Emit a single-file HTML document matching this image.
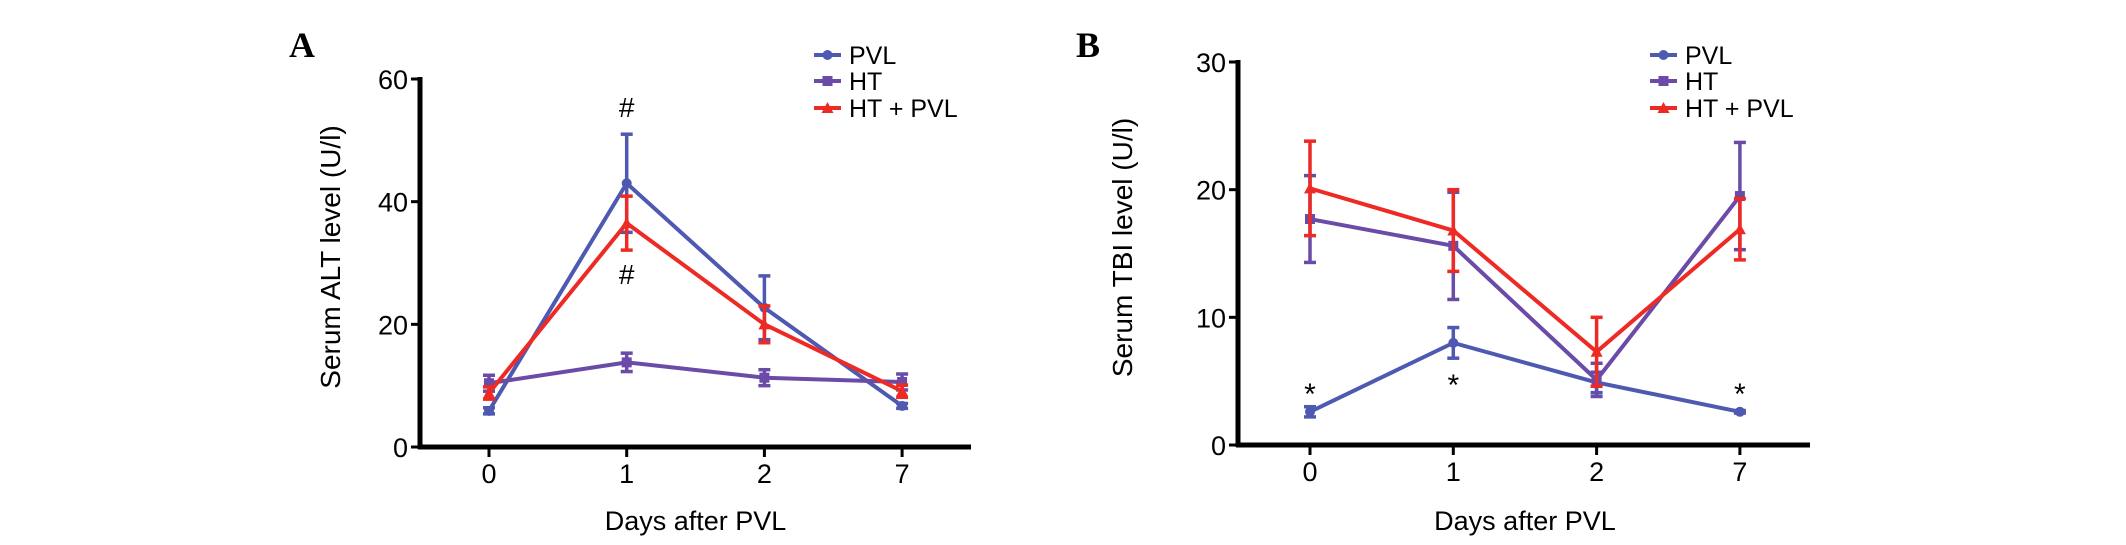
<!DOCTYPE html>
<html><head><meta charset="utf-8"><style>
html,body{margin:0;padding:0;background:#fff;}
svg{display:block;font-family:"Liberation Sans",Arial,sans-serif;}
</style></head><body>
<svg id="chart" width="2126" height="545" viewBox="0 0 2126 545" xmlns="http://www.w3.org/2000/svg"></svg>
<script>
const categories = ["0","1","2","7"];
const seriesNames = ["PVL","HT","HT + PVL"];
// Panel A: ALT
const altPVL = [5.9, 43, 22.7, 6.7];
const altPVLErr = [0.5, 8, 5.2, 0.4];
const altHT = [10.4, 13.8, 11.3, 10.6];
const altHTErr = [1.3, 1.5, 1.3, 1.3];
const altHTPVL = [8.8, 36.5, 20, 9.1];
const altHTPVLErr = [1.0, 4.4, 3.0, 1.0];
const altTicks = [0, 20, 40, 60];
// Panel B: TBI
const tbiPVL = [2.6, 8.0, 4.9, 2.6];
const tbiPVLErr = [0.4, 1.2, 0.8, 0.1];
const tbiHT = [17.7, 15.6, 5.1, 19.5];
const tbiHTErr = [3.4, 4.2, 1.3, 4.2];
const tbiHTPVL = [20.1, 16.8, 7.3, 16.9];
const tbiHTPVLErr = [3.7, 3.2, 2.7, 2.4];
const tbiTicks = [0, 10, 20, 30];

const colors = ["#4e59b1", "#6a4ba8", "#ee2a24"];
const markers = ["circle", "square", "triangle"];
const NS = "http://www.w3.org/2000/svg";
const svg = document.getElementById("chart");
function el(tag, attrs, parent) {
  const e = document.createElementNS(NS, tag);
  for (const k in attrs) e.setAttribute(k, attrs[k]);
  (parent || svg).appendChild(e);
  return e;
}
function txt(str, attrs, parent) { const t = el("text", attrs, parent); t.textContent = str; return t; }

function marker(g, type, x, y, c) {
  let m;
  if (type === "circle") m = el("circle", {cx: x, cy: y, r: 5, fill: c}, g);
  else if (type === "square") m = el("rect", {x: x - 5, y: y - 5, width: 10, height: 10, fill: c}, g);
  else m = el("polygon", {points: `${x},${y-6} ${x+6},${y+5} ${x-6},${y+5}`, fill: c}, g);
  return m;
}

function panel(cfg) {
  const g = el("g", {});
  
  
  const xs = i => cfg.x0 + i * cfg.dx;
  const ys = v => cfg.y0 - (v - cfg.ticks[0]) / (cfg.ticks[cfg.ticks.length-1] - cfg.ticks[0]) * (cfg.y0 - cfg.yTop);
  const ya = el("line", {x1: cfg.ax, y1: ys(cfg.ticks[cfg.ticks.length-1]) - 2, x2: cfg.ax, y2: cfg.y0 + 2, stroke: "#000", "stroke-width": 5}, g);
  
  
  const xa = el("line", {x1: cfg.ax - 2, y1: cfg.y0, x2: cfg.xEnd, y2: cfg.y0, stroke: "#000", "stroke-width": 5}, g);
  
  
  cfg.ticks.forEach(t => {
    el("line", {x1: cfg.ax - 9, y1: ys(t), x2: cfg.ax, y2: ys(t), stroke: "#000", "stroke-width": 3}, g);
    const l = txt(String(t), {x: cfg.ax - 12, y: ys(t) + 10, "font-size": 27, "text-anchor": "end"}, g);
    
    
  });
  categories.forEach((c, i) => {
    el("line", {x1: xs(i), y1: cfg.y0, x2: xs(i), y2: cfg.y0 + 10, stroke: "#000", "stroke-width": 3}, g);
    const l = txt(c, {x: xs(i), y: cfg.y0 + 36, "font-size": 27, "text-anchor": "middle"}, g);
    
    
  });
  const xt = txt("Days after PVL", {x: (xs(0) + xs(3)) / 2, y: 530, "font-size": 27, "text-anchor": "middle"}, g);
  
  
  const cy = (cfg.y0 + ys(cfg.ticks[cfg.ticks.length-1])) / 2 - 6;
  const yt = txt(cfg.ytitle, {x: 0, y: 0, "font-size": 28, "text-anchor": "middle", transform: `translate(${cfg.ytx},${cy}) rotate(-90)`}, g);
  
  
  const pl = txt(cfg.label, {x: cfg.lx, y: 57, "font-size": 36, "font-weight": "bold", "font-family": "Liberation Serif, serif"}, g);
  
  
  cfg.series.forEach((s, si) => {
    const sg = el("g", {}, g);
    
    
    const c = colors[si];
    s.vals.forEach((v, i) => {
      const e = s.err[i];
      el("line", {x1: xs(i), y1: ys(v + e), x2: xs(i), y2: ys(v - e), stroke: c, "stroke-width": 3.5}, sg);
      el("line", {x1: xs(i) - 6, y1: ys(v + e), x2: xs(i) + 6, y2: ys(v + e), stroke: c, "stroke-width": 3.5}, sg);
      el("line", {x1: xs(i) - 6, y1: ys(v - e), x2: xs(i) + 6, y2: ys(v - e), stroke: c, "stroke-width": 3.5}, sg);
    });
    const pts = s.vals.map((v, i) => `${xs(i)},${ys(v)}`).join(" ");
    const pl2 = el("polyline", {points: pts, fill: "none", stroke: c, "stroke-width": 4, "stroke-linejoin": "round"}, sg);
    
    
    s.vals.forEach((v, i) => {
      const m = marker(sg, markers[si], xs(i), ys(v), c);
      
      
    });
  });
  cfg.annots.forEach(a => {
    const t = txt(a.s, {x: xs(a.i), y: ys(a.v) + a.dy, "font-size": a.size, "text-anchor": "middle"}, g);
    
    
  });
  const lg = el("g", {}, g);
  
  
  const rows = [55, 81, 108];
  seriesNames.forEach((n, si) => {
    const eg = el("g", {}, lg);
    
    
    el("line", {x1: cfg.legX, y1: rows[si], x2: cfg.legX + 27, y2: rows[si], stroke: colors[si], "stroke-width": 4}, eg);
    marker(eg, markers[si], cfg.legX + 13.5, rows[si], colors[si]);
    txt(n, {x: cfg.legX + 35, y: rows[si] + 9, "font-size": 25}, eg);
  });
}

panel({name: "panel-a-alt", label: "A", lx: 289, ax: 420, x0: 489, dx: 137.7, xEnd: 971, y0: 447, yTop: 79,
  ticks: altTicks, ytitle: "Serum ALT level  (U/l)", ytx: 340, legX: 814,
  series: [{vals: altPVL, err: altPVLErr}, {vals: altHT, err: altHTErr}, {vals: altHTPVL, err: altHTPVLErr}],
  annots: [{s: "#", i: 1, v: altPVL[1] + altPVLErr[1], dy: -17, size: 28}, {s: "#", i: 1, v: altHTPVL[1] - altHTPVLErr[1], dy: 34, size: 28}]});

panel({name: "panel-b-tbi", label: "B", lx: 1076, ax: 1238, x0: 1310, dx: 143.3, xEnd: 1810, y0: 445, yTop: 62,
  ticks: tbiTicks, ytitle: "Serum TBI level  (U/l)", ytx: 1132, legX: 1650,
  series: [{vals: tbiPVL, err: tbiPVLErr}, {vals: tbiHT, err: tbiHTErr}, {vals: tbiHTPVL, err: tbiHTPVLErr}],
  annots: [{s: "*", i: 0, v: tbiPVL[0], dy: -8, size: 30}, {s: "*", i: 1, v: tbiPVL[1], dy: 52, size: 30}, {s: "*", i: 3, v: tbiPVL[3], dy: -8, size: 30}]});
</script>
</body></html>
